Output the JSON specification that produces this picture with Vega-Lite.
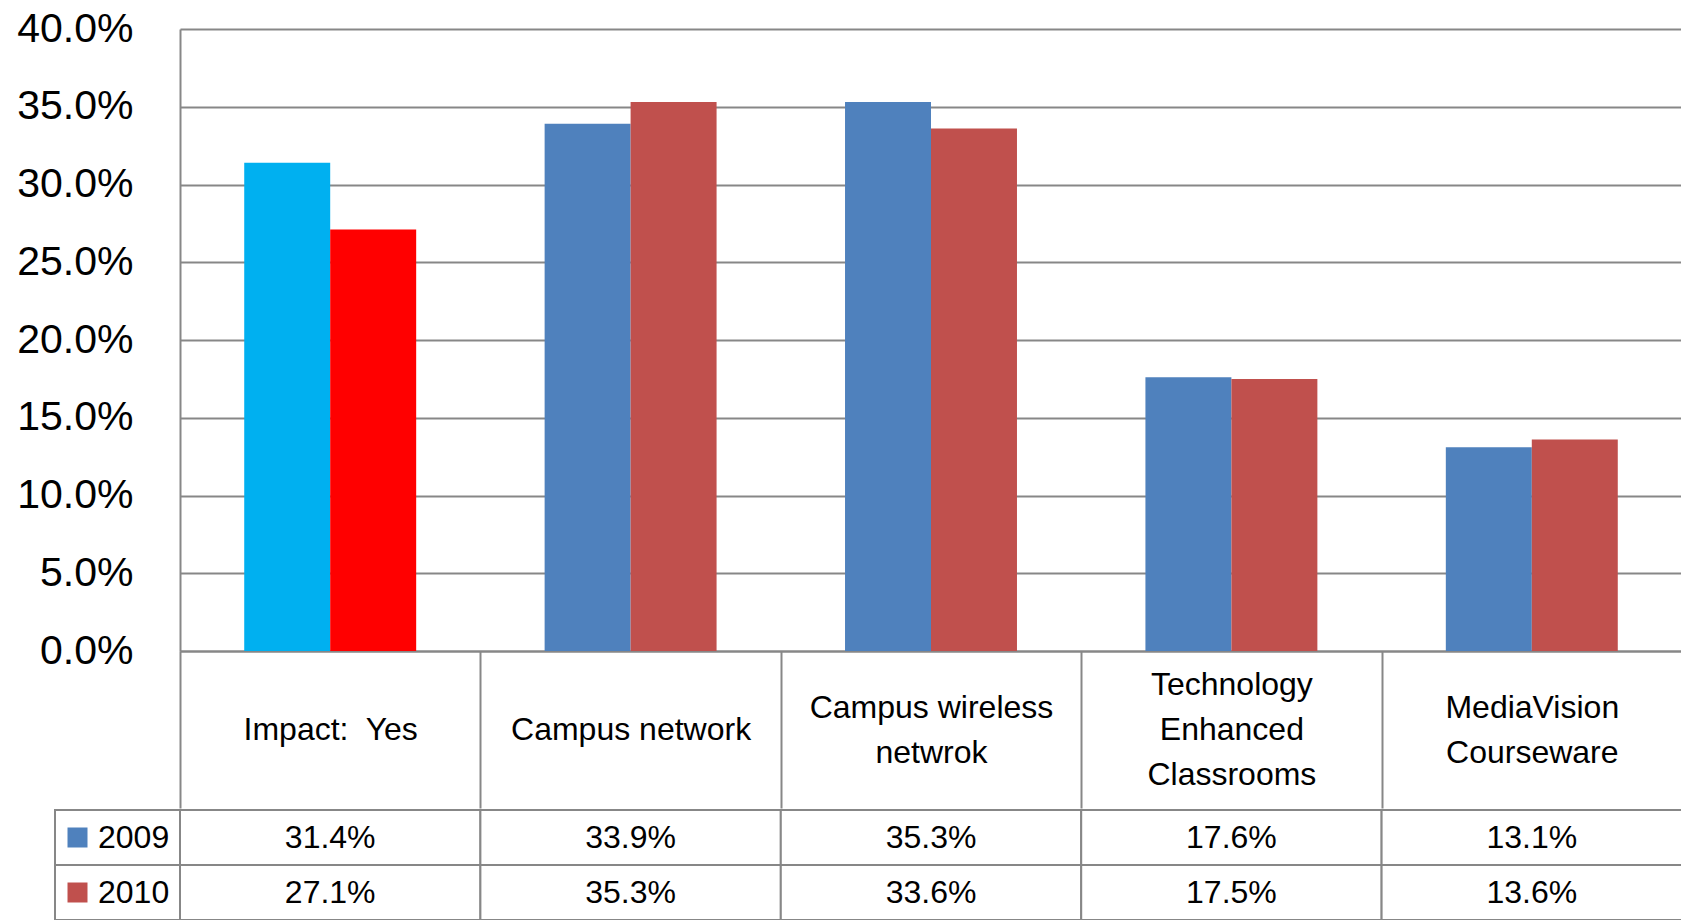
{
  "$schema": "https://vega.github.io/schema/vega-lite/v6.json",
  "padding": {"left": 16, "top": 8, "right": 0, "bottom": 0},
  "spacing": 0,
  "config": {"font": "Liberation Sans", "view": {"stroke": null}},
  "datasets": {
    "survey": [
      {"category": "Impact:  Yes", "year": "2009", "value": 0.314},
      {"category": "Impact:  Yes", "year": "2010", "value": 0.271},
      {"category": "Campus network", "year": "2009", "value": 0.339},
      {"category": "Campus network", "year": "2010", "value": 0.353},
      {"category": "Campus wireless netwrok", "year": "2009", "value": 0.353},
      {"category": "Campus wireless netwrok", "year": "2010", "value": 0.336},
      {"category": "Technology Enhanced Classrooms", "year": "2009", "value": 0.176},
      {"category": "Technology Enhanced Classrooms", "year": "2010", "value": 0.175},
      {"category": "MediaVision Courseware", "year": "2009", "value": 0.131},
      {"category": "MediaVision Courseware", "year": "2010", "value": 0.136}
    ]
  },
  "vconcat": [
    {
      "width": 1502,
      "height": 622,
      "data": {"name": "survey"},
      "mark": {"type": "bar"},
      "encoding": {
        "x": {
          "field": "category", "type": "nominal",
          "sort": ["Impact:  Yes", "Campus network", "Campus wireless netwrok", "Technology Enhanced Classrooms", "MediaVision Courseware"],
          "scale": {"paddingInner": 0, "paddingOuter": 0},
          "axis": {
            "title": null, "orient": "bottom",
            "domainColor": "#878787", "domainWidth": 2,
            "tickBand": "extent", "tickSize": 157, "tickColor": "#878787", "tickWidth": 2,
            "labelAngle": 0, "labelFontSize": 32, "labelColor": "black",
            "labelBaseline": "middle",
            "labelPadding": {
              "condition": [
                {"test": "datum.value === 'Technology Enhanced Classrooms'", "value": -123.5},
                {"test": "datum.value === 'Campus wireless netwrok' || datum.value === 'MediaVision Courseware'", "value": -101}
              ],
              "value": -78.5
            },
            "labelLineHeight": 45,
            "labelLimit": 400, "labelOverlap": false,
            "labelExpr": "datum.label === 'Campus wireless netwrok' ? ['Campus wireless', 'netwrok'] : datum.label === 'Impact:  Yes' ? 'Impact:\u00a0 Yes' : datum.label === 'Campus network' ? datum.label : split(datum.label, ' ')"
          }
        },
        "xOffset": {"field": "year", "type": "nominal", "scale": {"paddingInner": 0, "paddingOuter": 0.747}},
        "y": {
          "field": "value", "type": "quantitative",
          "scale": {"domain": [0, 0.4], "nice": false},
          "axis": {
            "title": null, "format": ".1%",
            "values": [0, 0.05, 0.1, 0.15, 0.2, 0.25, 0.3, 0.35, 0.4],
            "labelFontSize": 41, "labelColor": "black", "labelPadding": 47,
            "ticks": false, "domainColor": "#878787", "domainWidth": 2,
            "gridColor": "#878787", "gridWidth": 2
          }
        },
        "color": {
          "condition": [
            {"test": "datum.category === 'Impact:  Yes' && datum.year === '2009'", "value": "#00B0F0"},
            {"test": "datum.category === 'Impact:  Yes' && datum.year === '2010'", "value": "#FF0000"}
          ],
          "field": "year", "type": "nominal",
          "scale": {"domain": ["2009", "2010"], "range": ["#4F81BD", "#C0504D"]},
          "legend": null
        }
      }
    },
    {
      "width": 1502,
      "height": 110,
      "data": {"name": "survey"},
      "layer": [
        {
          "mark": {"type": "rect", "fill": "white", "stroke": "#878787", "strokeWidth": 2},
          "encoding": {
            "x": {"field": "category", "type": "nominal",
              "sort": ["Impact:  Yes", "Campus network", "Campus wireless netwrok", "Technology Enhanced Classrooms", "MediaVision Courseware"],
              "scale": {"paddingInner": 0, "paddingOuter": 0}, "axis": null},
            "y": {"field": "year", "type": "nominal", "scale": {"paddingInner": 0, "paddingOuter": 0}, "axis": null}
          }
        },
        {
          "mark": {"type": "text", "fontSize": 32, "color": "black"},
          "encoding": {
            "x": {"field": "category", "type": "nominal",
              "sort": ["Impact:  Yes", "Campus network", "Campus wireless netwrok", "Technology Enhanced Classrooms", "MediaVision Courseware"],
              "scale": {"paddingInner": 0, "paddingOuter": 0}, "axis": null},
            "y": {"field": "year", "type": "nominal", "scale": {"paddingInner": 0, "paddingOuter": 0}, "axis": null},
            "text": {"field": "value", "type": "quantitative", "format": ".1%"}
          }
        },
        {
          "transform": [{"filter": "datum.category === 'Impact:  Yes'"}],
          "layer": [
            {
              "mark": {"type": "rect", "fill": "white", "stroke": "#878787", "strokeWidth": 2},
              "encoding": {
                "x": {"datum": "key", "type": "nominal", "scale": {"domain": ["key"], "range": [-125, 0], "paddingInner": 0, "paddingOuter": 0}, "axis": null},
                "y": {"field": "year", "type": "nominal", "scale": {"paddingInner": 0, "paddingOuter": 0}, "axis": null}
              }
            },
            {
              "mark": {"type": "square", "size": 400, "filled": true, "opacity": 1},
              "encoding": {
                "x": {"datum": "key", "type": "nominal", "bandPosition": 0.18, "scale": {"domain": ["key"], "range": [-125, 0], "paddingInner": 0, "paddingOuter": 0}, "axis": null},
                "y": {"field": "year", "type": "nominal", "scale": {"paddingInner": 0, "paddingOuter": 0}, "axis": null},
                "color": {"field": "year", "type": "nominal", "scale": {"domain": ["2009", "2010"], "range": ["#4F81BD", "#C0504D"]}, "legend": null}
              }
            },
            {
              "mark": {"type": "text", "align": "left", "fontSize": 32, "color": "black"},
              "encoding": {
                "x": {"datum": "key", "type": "nominal", "bandPosition": 0.344, "scale": {"domain": ["key"], "range": [-125, 0], "paddingInner": 0, "paddingOuter": 0}, "axis": null},
                "y": {"field": "year", "type": "nominal", "scale": {"paddingInner": 0, "paddingOuter": 0}, "axis": null},
                "text": {"field": "year", "type": "nominal"}
              }
            }
          ]
        }
      ],
      "resolve": {"scale": {"x": "independent"}}
    }
  ]
}
